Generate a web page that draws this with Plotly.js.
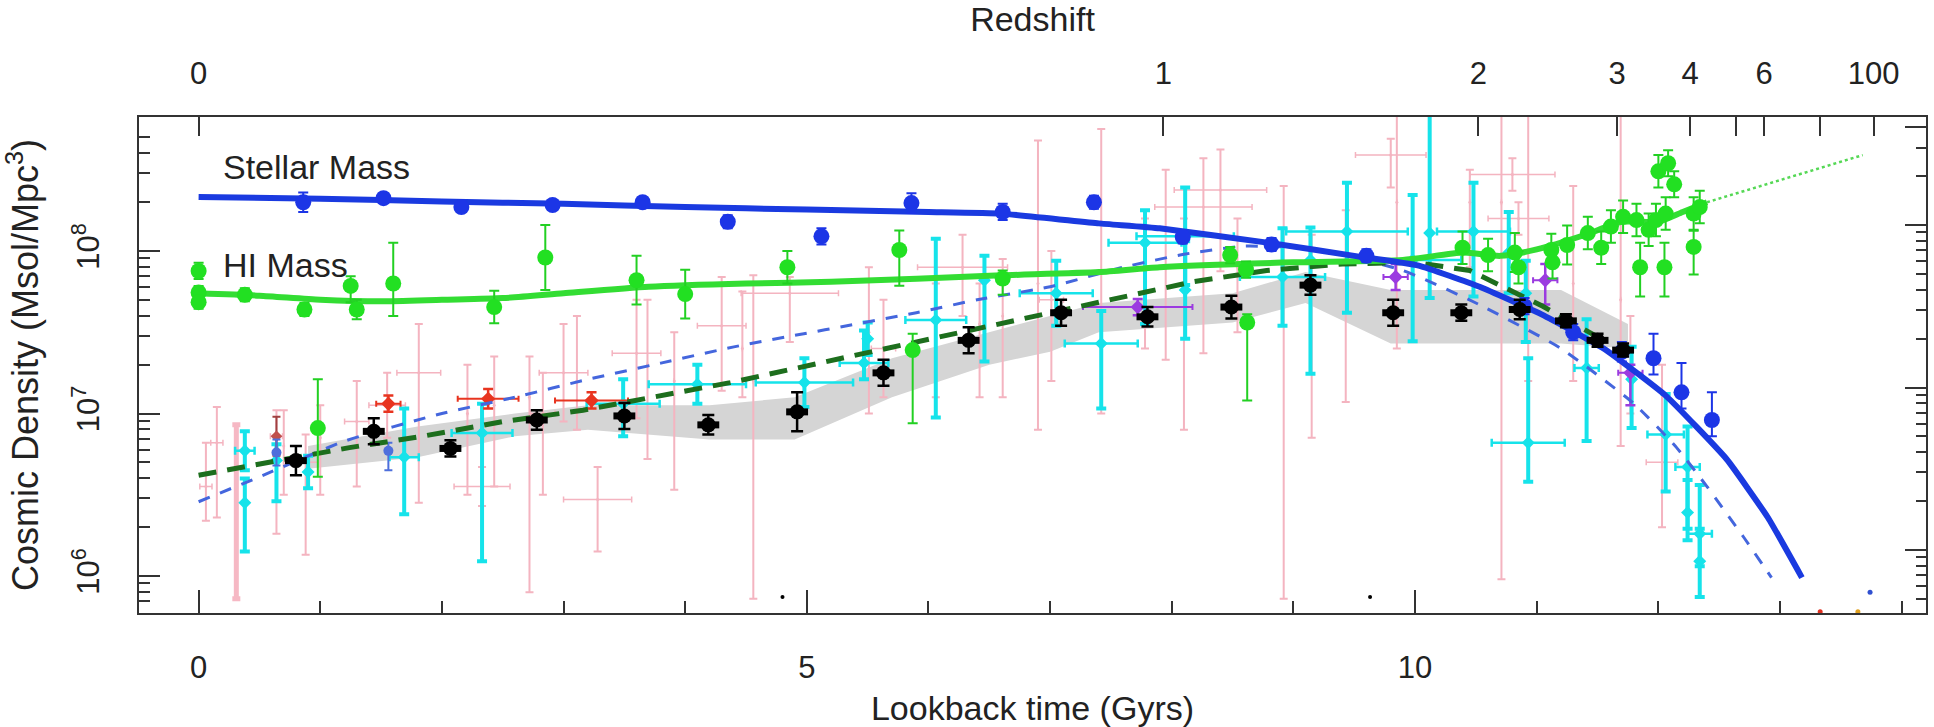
<!DOCTYPE html>
<html>
<head>
<meta charset="utf-8">
<script src="https://cdn.plot.ly/plotly-3.0.1.min.js"></script>
<style>html,body{margin:0;padding:0;background:#fff;}#chart{width:1934px;height:727px;}</style>
</head>
<body>
<div id="chart"></div>
<script>
// x: lookback time (Gyr); y values stored as log10(density in Msol/Mpc^3)
const redshiftTickT = [0, 7.93, 10.52, 11.66, 12.26, 12.87, 13.77];
const redshiftTickText = ['0', '1', '2', '3', '4', '6', '100'];
const redshiftUnlabelledT = [12.64, 13.33];
const lookbackTickVals = [0, 5, 10];
const lookbackTickText = ['0', '5', '10'];
const lookbackMinor = [1, 2, 3, 4, 6, 7, 8, 9, 11, 12, 13, 14];
const densityTickVals = [1e6, 1e7, 1e8];
const densityTickText = ['10<sup>6</sup>', '10<sup>7</sup>', '10<sup>8</sup>'];
const densityMinorLeft = [6e5, 7e5, 8e5, 9e5, 2e6, 3e6, 4e6, 5e6, 6e6, 7e6, 8e6, 9e6, 2e7, 3e7, 4e7, 5e7, 6e7, 7e7, 8e7, 9e7, 2e8, 3e8, 4e8, 5e8];
const rightTickVals = [1e6, 1e7, 1e8, 4e8];
const densityMinorRight = [5e5, 6e5, 7e5, 8e5, 9e5, 2e6, 3e6, 4e6, 5e6, 6e6, 7e6, 8e6, 9e6, 2e7, 3e7, 4e7, 5e7, 6e7, 7e7, 8e7, 9e7, 2e8, 3e8];

// Model curves
const stellarLineT = [0, 1, 2, 3, 4, 5, 6, 6.6, 7.4, 7.9, 8.8, 9.5, 10.03, 10.53, 11.04, 11.55, 12.06, 12.56, 12.9, 13.18];
const stellarLineLog = [8.332, 8.322, 8.305, 8.29, 8.27, 8.255, 8.24, 8.23, 8.17, 8.14, 8.05, 7.97, 7.91, 7.78, 7.61, 7.40, 7.11, 6.72, 6.36, 5.99];
const hiLineT = [0, 0.5, 1.0, 1.5, 2.0, 2.5, 3.0, 3.7, 4.5, 5.2, 6.6, 7.4, 7.9, 9.0, 9.9, 10.4, 10.7, 11.0, 11.4, 11.7, 12.0, 12.2, 12.4];
const hiLineLog = [7.74, 7.725, 7.70, 7.69, 7.70, 7.71, 7.74, 7.78, 7.80, 7.81, 7.85, 7.87, 7.90, 7.93, 7.945, 7.99, 7.97, 8.01, 8.10, 8.18, 8.18, 8.24, 8.30];
const hiExtrapT = [12.4, 13.68];
const hiExtrapLog = [8.30, 8.59];
const blueDashT = [0, 0.5, 1.2, 2.0, 2.6, 3.2, 3.8, 4.4, 5.9, 6.4, 7.0, 7.6, 8.1, 8.6, 9.2, 9.9, 10.5, 11.2, 11.8, 12.15, 12.4, 12.7, 12.93];
const blueDashLog = [6.457, 6.61, 6.83, 7.00, 7.10, 7.21, 7.31, 7.41, 7.62, 7.70, 7.78, 7.90, 7.98, 8.03, 8.01, 7.88, 7.68, 7.40, 7.06, 6.79, 6.55, 6.24, 5.99];
const greenDashT = [0, 0.6, 1.24, 1.84, 2.5, 3.16, 3.71, 4.37, 5.47, 6.32, 7.0, 7.55, 8.17, 8.78, 9.4, 10.0, 10.45, 11.05, 11.6];
const greenDashLog = [6.62, 6.70, 6.79, 6.86, 6.95, 7.02, 7.10, 7.19, 7.37, 7.51, 7.62, 7.71, 7.81, 7.88, 7.92, 7.93, 7.88, 7.66, 7.43];

// Grey band
const bandT = [0.9, 1.8, 2.6, 3.2, 4.2, 4.9, 5.7, 6.5, 7.0, 7.4, 8.5, 9.1, 9.8, 10.7, 11.2, 11.75];
const bandUpperLog = [6.80, 6.92, 7.00, 7.05, 7.05, 7.10, 7.34, 7.50, 7.60, 7.68, 7.74, 7.87, 7.76, 7.76, 7.76, 7.55];
const bandLowerLog = [6.66, 6.73, 6.86, 6.90, 6.84, 6.84, 7.10, 7.30, 7.38, 7.50, 7.56, 7.68, 7.43, 7.43, 7.43, 7.40];

// Black points (shaded-band data)
const blackT = [0.80, 1.44, 2.07, 2.78, 3.50, 4.19, 4.92, 5.63, 6.33, 7.09, 7.80, 8.49, 9.14, 9.82, 10.38, 10.86, 11.24, 11.50, 11.71];
const blackLog = [6.71, 6.89, 6.785, 6.96, 6.985, 6.93, 7.01, 7.25, 7.45, 7.62, 7.595, 7.655, 7.79, 7.62, 7.62, 7.64, 7.57, 7.45, 7.39];
const blackErr = [0.09, 0.08, 0.05, 0.06, 0.08, 0.06, 0.12, 0.08, 0.08, 0.08, 0.06, 0.07, 0.06, 0.08, 0.05, 0.06, 0.04, 0.04, 0.04];

// Stellar mass points
const blueT = [0.86, 1.52, 2.16, 2.91, 3.65, 4.35, 5.12, 5.86, 6.61, 7.36, 8.09, 8.82, 9.60, 10.90, 11.30, 11.70, 11.96, 12.19, 12.44];
const blueLog = [8.30, 8.325, 8.27, 8.283, 8.30, 8.18, 8.09, 8.295, 8.24, 8.30, 8.086, 8.04, 7.97, 7.66, 7.50, 7.38, 7.34, 7.13, 6.96];
const blueUp = [0.06, 0.03, 0.03, 0.03, 0.03, 0.04, 0.05, 0.06, 0.05, 0.04, 0.04, 0.04, 0.04, 0.05, 0.05, 0.06, 0.15, 0.18, 0.17];
const blueDn = [0.06, 0.03, 0.03, 0.03, 0.03, 0.04, 0.05, 0.06, 0.05, 0.04, 0.04, 0.04, 0.04, 0.05, 0.05, 0.06, 0.10, 0.10, 0.10];

// HI mass points
const greenT = [0, 0, 0, 0.38, 0.87, 0.98, 1.25, 1.30, 1.60, 2.43, 2.85, 3.60, 4.00, 4.84, 5.76, 5.87, 6.61, 8.48, 8.61, 8.62, 10.39, 10.60, 10.82, 10.85, 11.12, 11.13, 11.25, 11.42, 11.53, 11.61, 11.71, 11.82, 11.85, 11.92, 11.98, 12.05, 12.06, 12.00, 12.08, 12.13, 12.29, 12.29, 12.34];
const greenLog = [7.877, 7.745, 7.685, 7.73, 7.64, 6.91, 7.785, 7.64, 7.80, 7.655, 7.96, 7.82, 7.735, 7.90, 8.006, 7.39, 7.83, 7.975, 7.885, 7.56, 8.02, 7.975, 7.99, 7.90, 8.006, 7.93, 8.037, 8.11, 8.02, 8.15, 8.21, 8.19, 7.90, 8.13, 8.19, 7.90, 8.23, 8.49, 8.54, 8.41, 8.23, 8.025, 8.27];
const greenUp = [0.05, 0.04, 0.04, 0.04, 0.04, 0.30, 0.06, 0.06, 0.25, 0.10, 0.20, 0.15, 0.15, 0.10, 0.12, 0.10, 0.05, 0.05, 0.05, 0.05, 0.10, 0.10, 0.12, 0.10, 0.10, 0.10, 0.12, 0.10, 0.10, 0.10, 0.10, 0.10, 0.15, 0.10, 0.10, 0.15, 0.10, 0.10, 0.08, 0.08, 0.10, 0.10, 0.10];
const greenDn = [0.05, 0.04, 0.04, 0.04, 0.04, 0.30, 0.10, 0.06, 0.20, 0.10, 0.20, 0.15, 0.15, 0.10, 0.22, 0.45, 0.10, 0.05, 0.05, 0.48, 0.10, 0.10, 0.12, 0.10, 0.10, 0.10, 0.12, 0.10, 0.10, 0.10, 0.10, 0.10, 0.18, 0.10, 0.10, 0.18, 0.10, 0.10, 0.08, 0.08, 0.10, 0.17, 0.10];

// Cyan points
const cyanT = [0.38, 0.38, 0.64, 0.90, 1.69, 2.33, 3.49, 4.10, 4.98, 5.47, 5.50, 6.06, 6.46, 7.05, 7.42, 7.78, 8.11, 8.11, 8.91, 9.14, 9.44, 9.98, 10.12, 10.48, 10.77, 10.91, 10.93, 11.41, 11.78, 12.06, 12.24, 12.24, 12.34, 12.34];
const cyanLog = [6.77, 6.45, 6.71, 6.64, 6.73, 6.88, 7.06, 7.18, 7.19, 7.31, 7.46, 7.575, 7.82, 7.74, 7.43, 8.05, 8.09, 7.76, 7.84, 7.945, 8.12, 7.945, 8.11, 8.12, 7.99, 7.74, 6.82, 7.28, 7.21, 6.87, 6.67, 6.39, 6.26, 6.09];
const cyanUp = [0.12, 0.15, 0.10, 0.10, 0.30, 0.18, 0.15, 0.12, 0.15, 0.20, 0.10, 0.50, 0.15, 0.20, 0.20, 0.20, 0.30, 0.30, 0.30, 0.20, 0.30, 0.40, 1.00, 0.30, 0.25, 0.20, 0.52, 0.30, 0.20, 0.25, 0.25, 0.20, 0.30, 0.20];
const cyanDn = [0.12, 0.30, 0.25, 0.10, 0.35, 0.79, 0.20, 0.12, 0.15, 0.10, 0.10, 0.60, 0.50, 0.20, 0.40, 0.50, 0.30, 0.30, 0.30, 0.70, 0.50, 0.50, 0.40, 0.40, 0.25, 0.30, 0.24, 0.45, 0.30, 0.35, 0.45, 0.10, 0.20, 0.22];
const cyanEx = [0.08, 0, 0, 0, 0.12, 0.25, 0.30, 0.40, 0.40, 0.20, 0, 0.25, 0, 0.30, 0.30, 0.30, 0.40, 0, 0.35, 0, 0.50, 0.40, 0, 0.30, 0, 0, 0.30, 0.10, 0, 0.15, 0.10, 0, 0.10, 0];

// Pink compilation points
const pinkT = [0.06, 0.15, 0.64, 0.70, 0.88, 1.00, 1.30, 1.55, 1.81, 2.21, 2.33, 2.43, 2.72, 2.83, 3.00, 3.11, 3.28, 3.60, 3.69, 3.91, 4.30, 4.47, 4.56, 4.86, 5.51, 5.63, 6.06, 6.28, 6.42, 6.61, 6.90, 7.01, 7.42, 7.78, 7.95, 8.10, 8.26, 8.40, 8.54, 8.92, 9.15, 9.43, 9.80, 9.85, 10.45, 10.71, 10.80, 10.85, 10.93, 11.30, 11.69, 11.77, 12.03];
const pinkLog = [6.55, 6.82, 6.86, 6.80, 6.70, 6.85, 6.95, 7.05, 7.25, 7.00, 6.55, 7.05, 7.10, 7.00, 7.25, 7.20, 6.47, 7.37, 7.30, 7.20, 7.54, 7.40, 7.20, 7.74, 7.50, 7.40, 7.40, 7.90, 7.55, 7.60, 7.80, 7.70, 7.60, 7.90, 7.90, 7.80, 8.27, 8.375, 7.90, 7.90, 7.80, 7.95, 8.59, 8.30, 8.30, 8.30, 8.47, 8.20, 8.00, 7.80, 7.70, 7.30, 6.70];
const pinkUp = [0.27, 0.22, 0.16, 0.22, 0.17, 0.20, 0.25, 0.20, 0.30, 0.30, 0.12, 0.30, 0.25, 0.25, 0.30, 0.40, 0.20, 0.33, 0.40, 0.30, 0.30, 0.35, 0.65, 0.10, 0.40, 0.30, 0.40, 0.20, 0.25, 0.35, 0.88, 0.30, 1.15, 0.30, 0.60, 0.40, 0.30, 0.25, 0.30, 0.50, 0.30, 0.30, 0.10, 0.70, 0.20, 0.70, 0.10, 0.10, 0.99, 0.60, 1.30, 0.30, 0.60];
const pinkDn = [0.21, 0.46, 0.60, 0.30, 0.57, 0.35, 0.40, 0.20, 0.80, 0.50, 0.12, 0.50, 1.20, 0.50, 0.30, 0.30, 0.32, 0.40, 0.58, 0.67, 0.40, 0.30, 1.34, 0.30, 0.50, 0.30, 0.30, 0.30, 0.45, 0.50, 0.90, 0.50, 0.60, 0.50, 0.57, 0.90, 0.90, 0.50, 0.40, 2.04, 0.95, 0.88, 0.20, 0.90, 0.40, 2.32, 0.10, 0.10, 0.80, 0.60, 0.90, 0.30, 0.40];
const pinkEx = [0.05, 0.05, 0.05, 0, 0.1, 0, 0.1, 0.15, 0.18, 0, 0.23, 0, 0, 0.1, 0.2, 0, 0.28, 0.2, 0, 0, 0.2, 0, 0, 0.4, 0, 0.1, 0, 0.37, 0, 0, 0, 0.1, 0, 0, 0, 0, 0.4, 0.38, 0, 0, 0, 0, 0.29, 0, 0, 0, 0.35, 0.25, 0, 0, 0, 0, 0.13];
const pinkThickT = [0.31];
const pinkThickLog = [6.60];
const pinkThickUp = [0.33];
const pinkThickDn = [0.74];

// Small extra datasets
const redT = [1.56, 2.38, 3.23];
const redLog = [7.06, 7.09, 7.08];
const redErr = [0.05, 0.06, 0.05];
const redEx = [0.1, 0.25, 0.3];
const brownT = [0.64];
const brownLog = [6.86];
const brownErr = [0.12];
const purpleT = [7.72, 9.84, 11.07, 11.77];
const purpleLog = [7.655, 7.84, 7.82, 7.25];
const purpleUp = [0.05, 0.08, 0.10, 0.05];
const purpleDn = [0.05, 0.08, 0.15, 0.20];
const purpleEx = [0.45, 0.10, 0.10, 0.10];
const cornT = [0.64, 1.56];
const cornLog = [6.76, 6.77];
const cornUp = [0.08, 0.05];
const cornDn = [0.08, 0.12];
const dotT = [4.80, 9.63];
const dotLog = [5.87, 5.87];
const speckT = [13.33, 13.64, 13.74];
const speckLog = [5.78, 5.78, 5.90];
const speckColors = ['#e03020', '#e0a020', '#3050d0'];

const P = v => Math.pow(10, v);
const lin = arr => arr.map(P);
function errY(lg, up, dn, color, thickness, width) {
  return {type: 'data', symmetric: false, visible: true,
    array: lg.map((v, i) => P(v + up[i]) - P(v)),
    arrayminus: lg.map((v, i) => P(v) - P(v - dn[i])),
    color: color, thickness: thickness, width: width};
}
function errX(ex, color, thickness, width) {
  return {type: 'data', symmetric: true, visible: true, array: ex, color: color, thickness: thickness, width: width};
}

const traces = [];
traces.push({x: bandT.concat(bandT.slice().reverse()), y: lin(bandUpperLog).concat(lin(bandLowerLog).reverse()),
  mode: 'lines', fill: 'toself', fillcolor: '#d5d5d5', line: {width: 0, color: '#d5d5d5'}, hoverinfo: 'skip', name: 'band'});
traces.push({x: pinkThickT, y: lin(pinkThickLog), mode: 'markers', marker: {size: 3, color: '#f6b8c4'},
  error_y: errY(pinkThickLog, pinkThickUp, pinkThickDn, '#f6b8c4', 5, 4), name: 'pink thick'});
traces.push({x: pinkT, y: lin(pinkLog), mode: 'markers', marker: {size: 3, color: '#f4b4c0'},
  error_y: errY(pinkLog, pinkUp, pinkDn, '#f4b4c0', 2, 4), error_x: errX(pinkEx, '#f4b4c0', 1.5, 3), name: 'pink'});
traces.push({x: cyanT, y: lin(cyanLog), mode: 'markers', marker: {size: 10, symbol: 'diamond', color: '#16e3ea'},
  error_y: errY(cyanLog, cyanUp, cyanDn, '#16e3ea', 4, 5), error_x: errX(cyanEx, '#16e3ea', 2.5, 4), name: 'cyan'});
traces.push({x: brownT, y: lin(brownLog), mode: 'markers', marker: {size: 9, symbol: 'diamond', color: '#c0504d'},
  error_y: errY(brownLog, brownErr, brownErr, '#a04040', 2, 4), name: 'brown'});
traces.push({x: redT, y: lin(redLog), mode: 'markers', marker: {size: 11, symbol: 'diamond', color: '#e8341f'},
  error_y: errY(redLog, redErr, redErr, '#e8341f', 2.5, 5), error_x: errX(redEx, '#e8341f', 2, 3), name: 'red'});
traces.push({x: purpleT, y: lin(purpleLog), mode: 'markers', marker: {size: 11, symbol: 'diamond', color: '#9b3be0'},
  error_y: errY(purpleLog, purpleUp, purpleDn, '#9b3be0', 2.5, 5), error_x: errX(purpleEx, '#9b3be0', 2, 3), name: 'purple'});
traces.push({x: cornT, y: lin(cornLog), mode: 'markers', marker: {size: 10, color: '#4e6fdc'},
  error_y: errY(cornLog, cornUp, cornDn, '#4e6fdc', 2, 4), name: 'cornflower'});
traces.push({x: blueDashT, y: lin(blueDashLog), mode: 'lines', line: {color: '#4466dd', width: 3, dash: '12px,11px', shape: 'spline', smoothing: 0.5}, name: 'blue dash'});
traces.push({x: greenDashT, y: lin(greenDashLog), mode: 'lines', line: {color: '#1d6e1d', width: 5, dash: '18px,11px'}, name: 'green dash'});
traces.push({x: hiLineT, y: lin(hiLineLog), mode: 'lines', line: {color: '#33dd33', width: 6, shape: 'spline', smoothing: 0.6}, name: 'HI line'});
traces.push({x: hiExtrapT, y: lin(hiExtrapLog), mode: 'lines', line: {color: '#55d855', width: 2.5, dash: 'dot'}, name: 'HI extrap'});
traces.push({x: stellarLineT, y: lin(stellarLineLog), mode: 'lines', line: {color: '#1a3ae0', width: 6, shape: 'spline', smoothing: 0.4}, name: 'Stellar line'});
traces.push({x: greenT, y: lin(greenLog), mode: 'markers', marker: {size: 16, color: '#22e022'},
  error_y: errY(greenLog, greenUp, greenDn, '#22d022', 2, 5), name: 'HI pts'});
traces.push({x: blueT, y: lin(blueLog), mode: 'markers', marker: {size: 16, color: '#1c35e6'},
  error_y: errY(blueLog, blueUp, blueDn, '#1c35e6', 2, 5), name: 'stellar pts'});
traces.push({x: blackT, y: lin(blackLog), mode: 'markers', marker: {size: 15, color: '#000'},
  error_y: errY(blackLog, blackErr, blackErr, '#000', 2.5, 6),
  error_x: errX(blackT.map(() => 0.09), '#000', 7, 0), name: 'black pts'});
traces.push({x: dotT, y: lin(dotLog), mode: 'markers', marker: {size: 4, color: '#000'}, name: 'dots'});
traces.push({x: speckT, y: lin(speckLog), mode: 'markers', marker: {size: 5, color: speckColors}, name: 'specks'});
// anchor trace so the redshift (top) and right-hand axes are drawn
traces.push({x: [], y: [], xaxis: 'x2', yaxis: 'y2', mode: 'markers', hoverinfo: 'skip', name: 'axes'});

const FONT = 'Liberation Sans, Arial, Helvetica, sans-serif';
const range = [-0.49, 14.2];
const layout = {
  width: 1934, height: 727,
  margin: {l: 139, r: 8, t: 117, b: 114},
  paper_bgcolor: '#fff', plot_bgcolor: '#fff',
  showlegend: false,
  font: {family: FONT, size: 31, color: '#222'},
  xaxis: {range: range, tickmode: 'array', tickvals: lookbackTickVals, ticktext: lookbackTickText,
    ticks: 'inside', ticklen: 23, tickwidth: 2, tickcolor: '#333',
    minor: {tickmode: 'array', tickvals: lookbackMinor, ticks: 'inside', ticklen: 12, tickwidth: 2, tickcolor: '#333', showgrid: false},
    showline: true, linewidth: 2, linecolor: '#333', mirror: true, showgrid: false, zeroline: false,
    ticklabelstandoff: 26,
    title: {text: 'Lookback time (Gyrs)', font: {size: 34, color: '#222'}, standoff: 18}},
  xaxis2: {range: range, overlaying: 'x', side: 'top', anchor: 'y', tickmode: 'array', tickvals: redshiftTickT, ticktext: redshiftTickText,
    ticks: 'inside', ticklen: 19, tickwidth: 2, tickcolor: '#333',
    minor: {tickmode: 'array', tickvals: redshiftUnlabelledT, ticks: 'inside', ticklen: 19, tickwidth: 2, tickcolor: '#333', showgrid: false},
    showline: false, showgrid: false, zeroline: false,
    ticklabelstandoff: 26,
    title: {text: 'Redshift', font: {size: 34, color: '#222'}, standoff: 18}},
  yaxis: {type: 'log', range: [5.7723, 8.8246], tickmode: 'array', tickvals: densityTickVals, ticktext: densityTickText,
    tickangle: -90, ticks: 'inside', ticklen: 21, tickwidth: 2, tickcolor: '#333',
    minor: {tickmode: 'array', tickvals: densityMinorLeft, ticks: 'inside', ticklen: 11, tickwidth: 2, tickcolor: '#333', showgrid: false},
    showline: true, linewidth: 2, linecolor: '#333', mirror: true, showgrid: false, zeroline: false,
    ticklabelstandoff: 26,
    title: {text: 'Cosmic Density (Msol/Mpc<sup>3</sup>)', font: {size: 36, color: '#222'}, standoff: 18}},
  yaxis2: {type: 'log', range: [5.612, 8.665], overlaying: 'y', side: 'right', anchor: 'x', tickmode: 'array', tickvals: rightTickVals,
    showticklabels: false, ticks: 'inside', ticklen: 21, tickwidth: 2, tickcolor: '#333',
    minor: {tickmode: 'array', tickvals: densityMinorRight, ticks: 'inside', ticklen: 10, tickwidth: 2, tickcolor: '#333', showgrid: false},
    showline: false, showgrid: false, zeroline: false},
  annotations: [
    {text: 'Stellar Mass', x: 0.18, y: 8.517, xref: 'x', yref: 'y', xanchor: 'left', yanchor: 'middle', showarrow: false, font: {size: 34, color: '#222'}},
    {text: 'HI Mass', x: 0.18, y: 7.914, xref: 'x', yref: 'y', xanchor: 'left', yanchor: 'middle', showarrow: false, font: {size: 34, color: '#222'}}
  ]
};

Plotly.newPlot('chart', traces, layout, {displayModeBar: false, staticPlot: true}).then(function () {
  // drop empty placeholder text nodes that Plotly leaves behind
  document.querySelectorAll('#chart text').forEach(function (t) {
    if (!t.textContent || !t.textContent.trim()) t.parentNode.removeChild(t);
  });
});
</script>
</body>
</html>
